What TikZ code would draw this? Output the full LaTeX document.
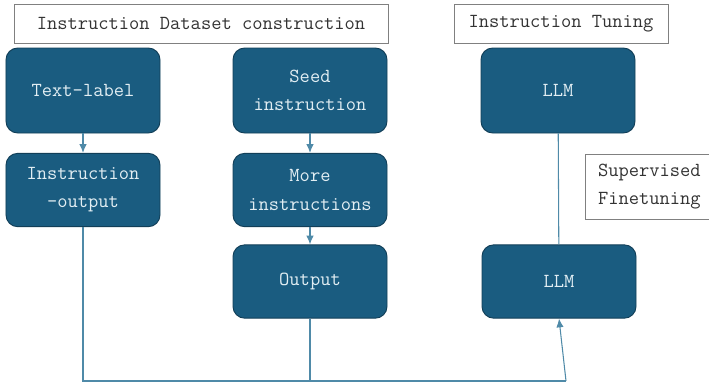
\documentclass[tikz,border=0pt]{standalone}
\usepackage{xcolor}
\usetikzlibrary{arrows.meta}
\definecolor{boxblue}{HTML}{1A5C80}
\definecolor{boxedge}{HTML}{123F58}
\definecolor{linkblue}{HTML}{4F8AA8}
\definecolor{boxtext}{HTML}{E2EEF3}

\begin{document}
\begin{tikzpicture}[x=0.03cm,y=-0.03cm,>={Latex[length=2.6mm,width=2.2mm]},
  font=\ttfamily\fontsize{17}{24}\selectfont,
  stage/.style={draw=boxedge,line width=0.8pt,fill=boxblue,text=boxtext,
    rounded corners=10pt,minimum width=4.62cm,minimum height=2.2cm,
    inner sep=0pt,align=center},
  title/.style={draw=gray,line width=0.8pt,fill=white,text=black!80,
    minimum height=1.17cm,inner sep=0pt},
  link/.style={draw=linkblue,line width=0.9pt}]
  \useasboundingbox (0,0) rectangle (709,383);
  \node[title,minimum width=11.22cm] (T1) at (201,23.5){Instruction Dataset construction\hspace{0.5cm}};
  \node[title,minimum width=6.42cm] (T2) at (561,23.5){Instruction Tuning};
  \node[stage,minimum height=2.55cm] (TL) at (83,90.5){Text-label};
  \node[stage] (IO) at (83,190){Instruction\\-output};
  \node[stage,minimum height=2.55cm] (SI) at (310,90.5){Seed\\instruction};
  \node[stage] (MI) at (310,190){More\\instructions};
  \node[stage] (OP) at (310,281.5){Output};
  \node[stage,minimum height=2.55cm] (L1) at (558,90.5){LLM};
  \node[stage] (L2) at (559,281.5){LLM};
  \node[draw=gray,line width=0.8pt,fill=white,text=black!80,align=left,
    anchor=north west,minimum width=3.9cm,minimum height=1.95cm,
    inner xsep=0.38cm,inner ysep=0pt,text width=3.3cm] (SF) at (585,154){Supervised\\Finetuning};
  \coordinate (J) at (566,381);
  \draw[link,->] (TL) -- (IO);
  \draw[link,->] (SI) -- (MI);
  \draw[link,->] (MI) -- (OP);
  \draw[link] (L1) -- (L2);
  \draw[link] (IO.south) |- (J);
  \draw[link] (OP.south) -- (OP.south |- J);
  \draw[link,->] (J) -- (L2.south);
\end{tikzpicture}
\end{document}
